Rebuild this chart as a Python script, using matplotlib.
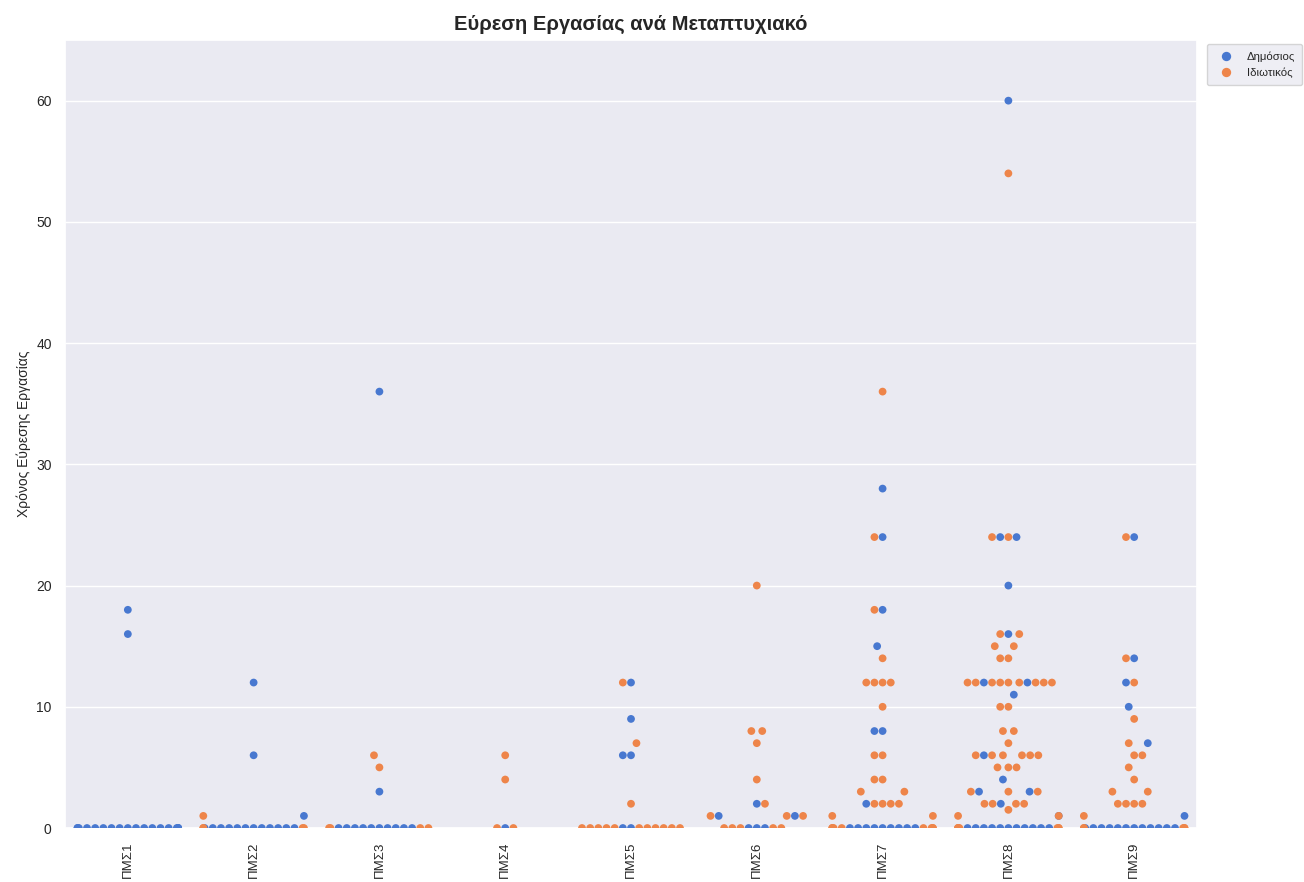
import numpy as np
import pandas as pd
import matplotlib
matplotlib.use("Agg")
import matplotlib.pyplot as plt
import seaborn as sns

categories = ["ΠΜΣ1", "ΠΜΣ2", "ΠΜΣ3", "ΠΜΣ4", "ΠΜΣ5", "ΠΜΣ6", "ΠΜΣ7", "ΠΜΣ8", "ΠΜΣ9"]
sectors = ["Δημόσιος", "Ιδιωτικός"]

# months to find a job, per programme and sector
pms1_public = [0, 0, 0, 0, 0, 0, 0, 0, 0, 0, 0, 0, 0, 0, 0, 0, 0, 0, 16, 18]
pms1_private = []
pms2_public = [0, 0, 0, 0, 0, 0, 0, 0, 0, 0, 0, 0, 1, 6, 12]
pms2_private = [0, 0, 0, 0, 1]
pms3_public = [0, 0, 0, 0, 0, 0, 0, 0, 0, 0, 3, 36]
pms3_private = [0, 0, 0, 0, 5, 6]
pms4_public = [0]
pms4_private = [0, 0, 4, 6]
pms5_public = [0, 0, 6, 6, 9, 12]
pms5_private = [0, 0, 0, 0, 0, 0, 0, 0, 0, 0, 0, 2, 7, 12]
pms6_public = [0, 0, 0, 1, 1, 2]
pms6_private = [0, 0, 0, 0, 0, 1, 1, 1, 2, 4, 7, 8, 8, 20]
pms7_public = [0, 0, 0, 0, 0, 0, 0, 0, 0, 2, 8, 8, 15, 18, 24, 28]
pms7_private = [0, 0, 0, 0, 0, 0, 0, 0, 1, 1, 2, 2, 2, 2, 3, 3, 4, 4, 6, 6,
                10, 12, 12, 12, 12, 14, 18, 24, 36]
pms8_public = [0, 0, 0, 0, 0, 0, 0, 0, 0, 0, 0, 1, 2, 3, 3, 4, 6, 11, 12, 12,
               16, 20, 24, 24, 60]
pms8_private = [0, 0, 0, 0, 0, 0, 0, 1, 1, 1.5, 2, 2, 2, 2, 3, 3, 3, 5, 5, 5,
                6, 6, 6, 6, 6, 6, 7, 8, 8, 10, 10, 12, 12, 12, 12, 12, 12, 12, 12, 12,
                14, 14, 15, 15, 16, 16, 24, 24, 54]
pms9_public = [0, 0, 0, 0, 0, 0, 0, 0, 0, 0, 0, 0, 1, 7, 10, 12, 14, 24]
pms9_private = [0, 0, 0, 0, 0, 1, 2, 2, 2, 2, 3, 3, 4, 5, 6, 6, 7, 9, 12, 14, 24]

public_lists = [pms1_public, pms2_public, pms3_public, pms4_public, pms5_public,
                pms6_public, pms7_public, pms8_public, pms9_public]
private_lists = [pms1_private, pms2_private, pms3_private, pms4_private, pms5_private,
                 pms6_private, pms7_private, pms8_private, pms9_private]

rows = []
for cat, pub, priv in zip(categories, public_lists, private_lists):
    for v in pub:
        rows.append((cat, sectors[0], v))
    for v in priv:
        rows.append((cat, sectors[1], v))
df = pd.DataFrame(rows, columns=["ΠΜΣ", "Τομέας", "Χρόνος"])

sns.set_theme(style="darkgrid")
plt.rcParams["font.family"] = ["Liberation Sans", "DejaVu Sans"]

W, H = 13.04, 8.82
H0 = 4.22  # height used while the swarm layout is computed
fig = plt.figure(figsize=(W, H0), dpi=100)
fig.subplots_adjust(left=0.0498, right=0.918, bottom=0.0612, top=0.9546)
ax = fig.add_subplot(111)

sns.swarmplot(data=df, x="ΠΜΣ", y="Χρόνος", hue="Τομέας", order=categories,
              hue_order=sectors, palette="muted", size=5.6, ax=ax)
ax.set_ylim(0, 65)
ax.set_yticks([0, 10, 20, 30, 40, 50, 60])
ax.set_xlabel("")
ax.set_ylabel("Χρόνος Εύρεσης Εργασίας", fontsize=10)
ax.set_title("Εύρεση Εργασίας ανά Μεταπτυχιακό", fontsize=14.5, fontweight="bold", pad=7.5)
ax.tick_params(axis="x", labelrotation=90, labelsize=9.5)
ax.tick_params(axis="y", labelsize=10)

fig.canvas.draw()
for coll in ax.collections:
    if "draw" in vars(coll):
        del coll.draw

fig.set_size_inches(W, H)
ax.legend(loc="upper left", bbox_to_anchor=(1.0053, 1.0), fontsize=8.2,
          markerscale=1.2, handlelength=2.0, handletextpad=0.85,
          labelspacing=0.54, borderpad=0.63, borderaxespad=0.35)

fig.savefig("out.png", dpi=100, facecolor="white")
